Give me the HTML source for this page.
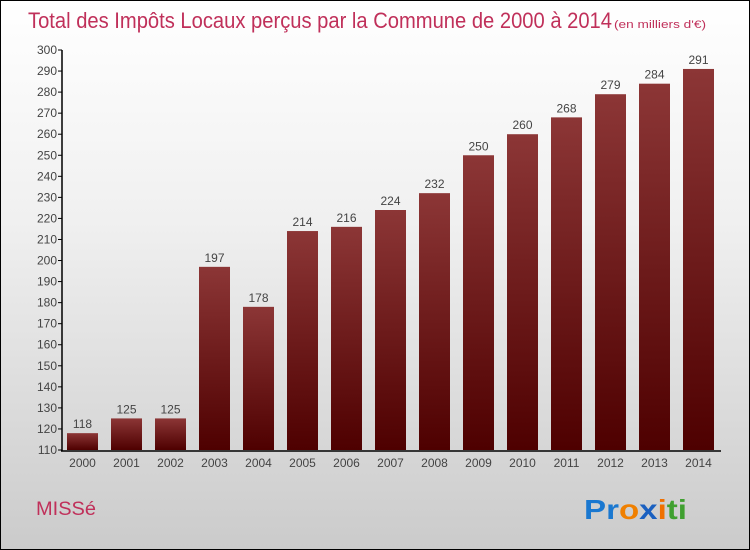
<!DOCTYPE html>
<html><head><meta charset="utf-8"><style>
html,body{margin:0;padding:0}
body{width:750px;height:550px;overflow:hidden;font-family:"Liberation Sans",sans-serif}
#wrap{position:absolute;left:0;top:0;width:748px;height:548px;border:1px solid #000;background:linear-gradient(#fff 0%,#f0f0f0 40%,#cbcbcb 100%)}
</style></head><body>
<div id="wrap">
<svg id="svg" width="748" height="548" style="position:absolute;left:0;top:0">
<defs><linearGradient id="bg" x1="0" y1="0" x2="0" y2="1"><stop offset="0" stop-color="#8c3636"/><stop offset="1" stop-color="#4e0000"/></linearGradient></defs>
<text x="27" y="27" font-size="22" fill="#c0305a" textLength="584" lengthAdjust="spacingAndGlyphs">Total des Impôts Locaux perçus par la Commune de 2000 à 2014</text>
<text x="613" y="27" font-size="11" fill="#c0305a" textLength="92" lengthAdjust="spacingAndGlyphs">(en milliers d'€)</text>
<g id="g"></g>
<text x="35" y="514" font-size="19" fill="#c0305a" textLength="60" lengthAdjust="spacingAndGlyphs">MISSé</text>
<text x="583" y="518" font-size="28" font-weight="bold" textLength="103" lengthAdjust="spacingAndGlyphs"><tspan fill="#1a78d0">Pr</tspan><tspan fill="#f08000">o</tspan><tspan fill="#1a60c0">x</tspan><tspan fill="#f07000">i</tspan><tspan fill="#40a030">ti</tspan></text>
</svg></div>
<script>
const years=["2000","2001","2002","2003","2004","2005","2006","2007","2008","2009","2010","2011","2012","2013","2014"];
const values=[118,125,125,197,178,214,216,224,232,250,260,268,279,284,291];
const yTicks=[110,120,130,140,150,160,170,180,190,200,210,220,230,240,250,260,270,280,290,300];
const NS="http://www.w3.org/2000/svg";
const g=document.getElementById('g');
const y=v=>449-(v-110)*400/190;
const x=i=>66+i*44;
function el(t,a,txt){const e=document.createElementNS(NS,t);for(const k in a)e.setAttribute(k,a[k]);if(txt!==undefined)e.textContent=txt;g.appendChild(e);return e;}
values.forEach((v,i)=>{
 const r=el('rect',{x:x(i),y:y(v),width:31,height:449-y(v),fill:'url(#bg)'});
 
 
 const t=el('text',{x:x(i)+15.5,y:y(v)-5,'text-anchor':'middle','font-size':12,fill:'#444'},v);
 
 
 const xl=el('text',{x:x(i)+15.5,y:466,'text-anchor':'middle','font-size':12,fill:'#444'},years[i]);
 
 
});
yTicks.forEach(v=>{
 el('line',{x1:57,x2:61,y1:y(v),y2:y(v),stroke:'#000'});
 const t=el('text',{x:56,y:y(v)+4,'text-anchor':'end','font-size':12,fill:'#444'},v);
 
 
});
const ya=el('line',{x1:61,x2:61,y1:49,y2:450,stroke:'#000','stroke-width':1.5});


const xa=el('line',{x1:60,x2:720,y1:450,y2:450,stroke:'#000','stroke-width':1.5});


</script>
</body></html>
